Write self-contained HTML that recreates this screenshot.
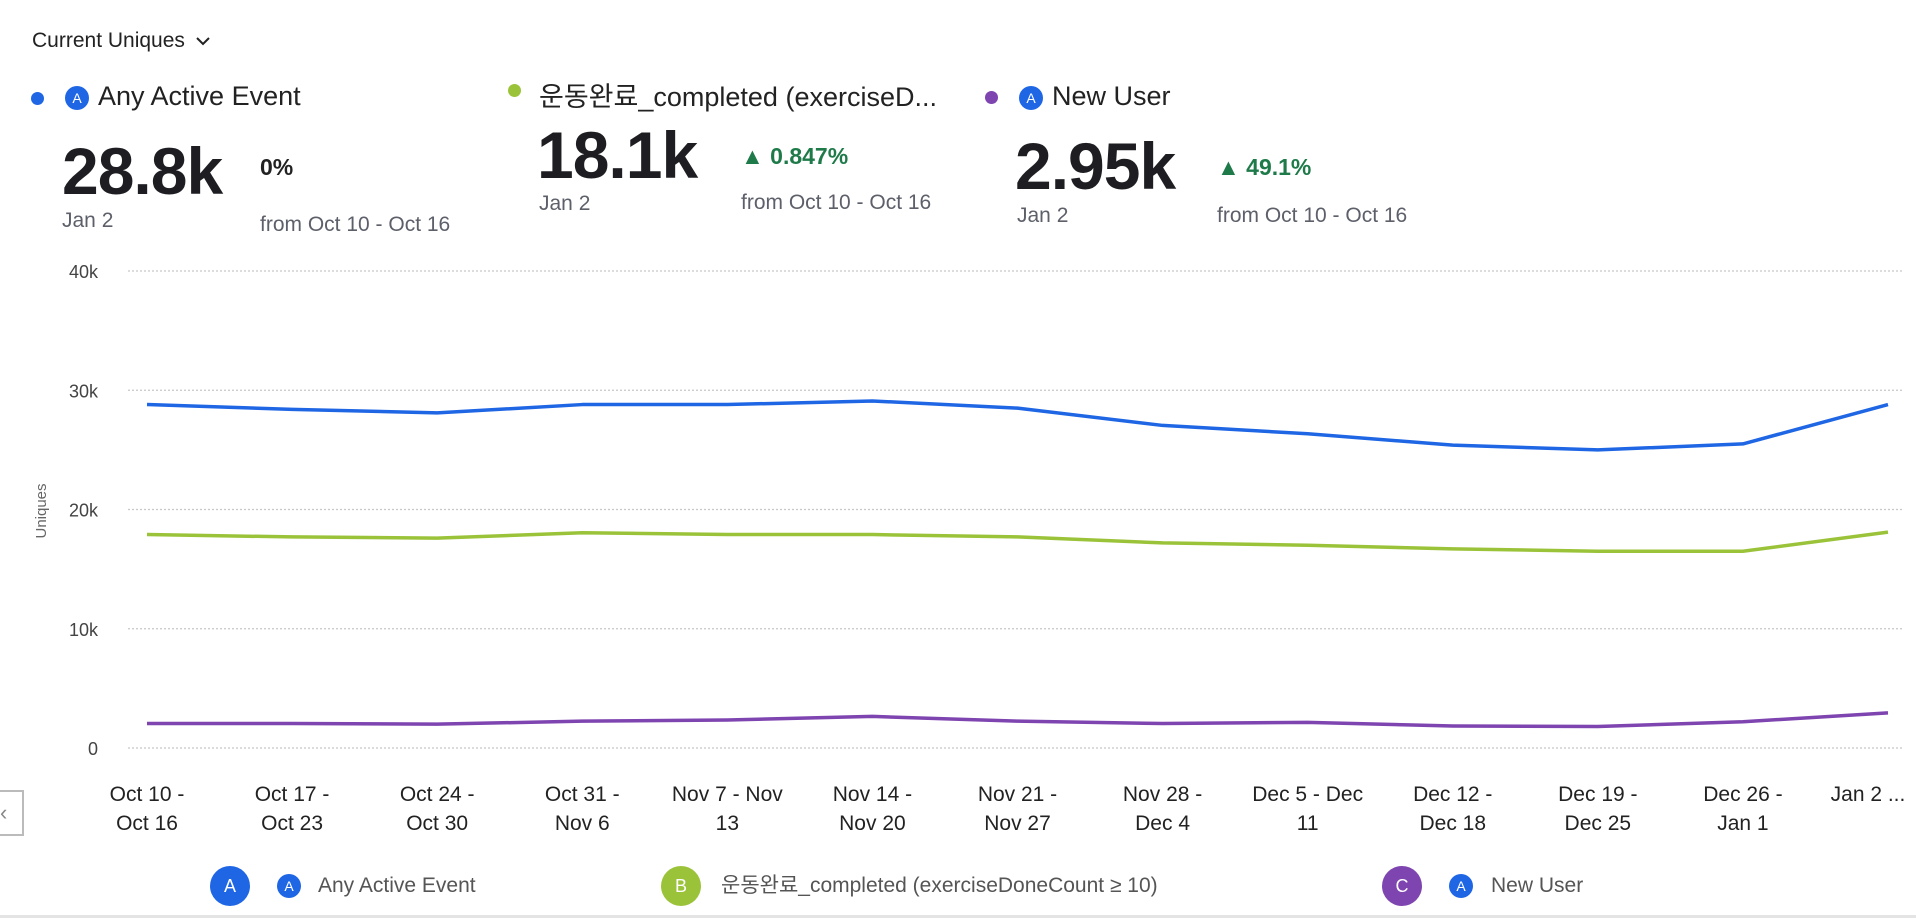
<!DOCTYPE html>
<html><head><meta charset="utf-8"><style>
html,body{margin:0;padding:0;background:#fff;width:1916px;height:918px;overflow:hidden;font-family:"Liberation Sans","Noto Sans CJK KR",sans-serif;color:#222}
.abs{position:absolute;white-space:nowrap;line-height:1.15}
.dot{position:absolute;width:13px;height:13px;border-radius:50%}
.ic{position:absolute;width:24px;height:24px;border-radius:50%;background:#1f66e5;color:#fff;font-size:14px;text-align:center;line-height:24px}
.name{font-size:27px;color:#222}
.big{font-size:66px;font-weight:bold;color:#1d1d22;letter-spacing:-1px}
.sub{font-size:21px;color:#5d606a}
.pct{font-size:23px;font-weight:bold;color:#1f7a4a}
</style></head><body>
<div class="abs" style="left:32px;top:29px;font-size:21px;color:#222">Current Uniques <svg width="16" height="12" style="margin-left:4px"><polyline points="2,3 8,9 14,3" fill="none" stroke="#222" stroke-width="2"/></svg></div>

<div class="dot" style="left:31px;top:92px;background:#1f66e5"></div>
<div class="ic" style="left:65px;top:86px">A</div>
<div class="abs name" style="left:98px;top:81px">Any Active Event</div>
<div class="abs big" style="left:62px;top:134px">28.8k</div>
<div class="abs sub" style="left:62px;top:209px">Jan 2</div>
<div class="abs pct" style="left:260px;top:154px;color:#222">0%</div>
<div class="abs sub" style="left:260px;top:213px">from Oct 10 - Oct 16</div>

<div class="dot" style="left:508px;top:84px;background:#9bc33a"></div>
<div class="abs name" style="left:539px;top:82px;line-height:30px">운동완료_completed (exerciseD...</div>
<div class="abs big" style="left:537px;top:118px">18.1k</div>
<div class="abs sub" style="left:539px;top:192px">Jan 2</div>
<div class="abs pct" style="left:741px;top:143px">&#9650; 0.847%</div>
<div class="abs sub" style="left:741px;top:191px">from Oct 10 - Oct 16</div>

<div class="dot" style="left:985px;top:91px;background:#7e44b0"></div>
<div class="ic" style="left:1019px;top:86px">A</div>
<div class="abs name" style="left:1052px;top:81px">New User</div>
<div class="abs big" style="left:1015px;top:129px">2.95k</div>
<div class="abs sub" style="left:1017px;top:204px">Jan 2</div>
<div class="abs pct" style="left:1217px;top:154px">&#9650; 49.1%</div>
<div class="abs sub" style="left:1217px;top:204px">from Oct 10 - Oct 16</div>

<div class="abs" style="left:-2px;top:790px;width:22px;height:42px;border:2px solid #bbb;color:#888;font-size:22px;line-height:42px">&#8249;</div>

<svg id="chart" width="1916" height="918" style="position:absolute;left:0;top:0"></svg>

<div class="abs" style="left:0;top:866px;width:1916px;height:40px;font-size:21px;color:#555">
 <div class="abs" style="left:210px;top:0">
  <span style="position:absolute;left:0;top:0;width:40px;height:40px;border-radius:50%;background:#1f66e5;color:#fff;text-align:center;line-height:40px;font-size:18px">A</span>
  <span class="ic" style="left:67px;top:8px">A</span>
  <span style="position:absolute;left:108px;top:8px;line-height:24px">Any Active Event</span></div>
 <div class="abs" style="left:661px;top:0">
  <span style="position:absolute;left:0;top:0;width:40px;height:40px;border-radius:50%;background:#9bc33a;color:#fff;text-align:center;line-height:40px;font-size:18px">B</span>
  <span style="position:absolute;left:60px;top:8px;line-height:24px">운동완료_completed (exerciseDoneCount ≥ 10)</span></div>
 <div class="abs" style="left:1382px;top:0">
  <span style="position:absolute;left:0;top:0;width:40px;height:40px;border-radius:50%;background:#7e44b0;color:#fff;text-align:center;line-height:40px;font-size:18px">C</span>
  <span class="ic" style="left:67px;top:8px">A</span>
  <span style="position:absolute;left:109px;top:8px;line-height:24px">New User</span></div>
</div>
<div class="abs" style="left:0;top:915px;width:1916px;height:3px;background:#e4e4e4"></div>

<script>
const categories=[["Oct 10 -","Oct 16"],["Oct 17 -","Oct 23"],["Oct 24 -","Oct 30"],["Oct 31 -","Nov 6"],["Nov 7 - Nov","13"],["Nov 14 -","Nov 20"],["Nov 21 -","Nov 27"],["Nov 28 -","Dec 4"],["Dec 5 - Dec","11"],["Dec 12 -","Dec 18"],["Dec 19 -","Dec 25"],["Dec 26 -","Jan 1"],["Jan 2 ...",""]];
const seriesA=[28800,28400,28100,28800,28800,29100,28500,27050,26350,25400,25000,25500,28800];
const seriesB=[17900,17700,17600,18050,17900,17900,17700,17200,17000,16700,16500,16500,18100];
const seriesC=[2050,2050,2000,2250,2350,2650,2250,2050,2150,1850,1800,2200,2950];
const yTicks=[0,10000,20000,30000,40000];
const yTickLabels=["0","10k","20k","30k","40k"];
const NS="http://www.w3.org/2000/svg";
const svg=document.getElementById('chart');
const x0=147,x1=1888,y0=748,y1=271,gx0=128,gx1=1904;
const xs=i=>x0+(x1-x0)*i/(categories.length-1);
const ys=v=>y0-(y0-y1)*v/40000;
function mk(t,a){const e=document.createElementNS(NS,t);for(const k in a)e.setAttribute(k,a[k]);svg.appendChild(e);return e;}
yTicks.forEach((v,i)=>{
 const l=mk('line',{x1:gx0,x2:gx1,y1:ys(v),y2:ys(v),stroke:'#c8c8c8','stroke-width':1.2,'stroke-dasharray':'2 2'});
 
 
 const t=mk('text',{x:98,y:ys(v)+7,'text-anchor':'end','font-size':18,fill:'#444'});
 t.textContent=yTickLabels[i];
 
 
});
const yt=mk('text',{x:0,y:0,transform:'translate(46,511) rotate(-90)','text-anchor':'middle','font-size':15,fill:'#666'});
yt.textContent='Uniques';


categories.forEach((c,i)=>{
 c.forEach((s,j)=>{
  const t=mk('text',{x:xs(i)+(i==categories.length-1?-20:0),y:801+j*29,'text-anchor':'middle','font-size':21,fill:'#222'});
  t.textContent=s;
  
  
 });
});
[[seriesA,'#1f66e5','line-any-active-event'],[seriesB,'#9bc33a','line-exercise-completed'],[seriesC,'#7e44b0','line-new-user']].forEach(([d,c,n])=>{
 const p=mk('polyline',{points:d.map((v,i)=>xs(i)+','+ys(v)).join(' '),fill:'none',stroke:c,'stroke-width':3.5,'stroke-linejoin':'round'});
 
 
});
</script>
</body></html>
